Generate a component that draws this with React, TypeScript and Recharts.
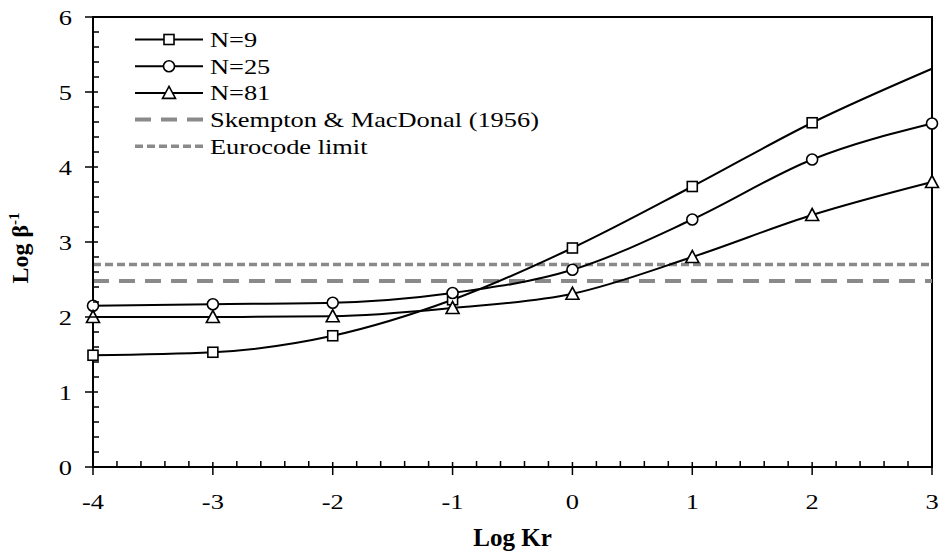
import React from "react";
import { LineChart, Line, XAxis, YAxis, ReferenceLine, ReferenceArea } from "recharts";

const logKr = [-4, -3, -2, -1, 0, 1, 2, 3];
const n9 = [1.49, 1.53, 1.75, 2.23, 2.92, 3.74, 4.59, 5.31];
const n25 = [2.15, 2.17, 2.19, 2.32, 2.63, 3.3, 4.1, 4.58];
const n81 = [2.0, 2.0, 2.01, 2.12, 2.31, 2.8, 3.36, 3.8];

const skemptonLimit = 2.48;
const eurocodeLimit = 2.7;

const xMajorTicks = [-4, -3, -2, -1, 0, 1, 2, 3];
const yMajorTicks = [0, 1, 2, 3, 4, 5, 6];

const FONT = '"Liberation Serif", "Times New Roman", serif';
const DASH_GREY = "#8a8a8a";

// major ticks plus 4 minor ticks in between each pair
function withMinor(majors: number[], parts: number) {
    const out: number[] = [];
    for (let i = 0; i < majors.length; i++) {
        out.push(majors[i]);
        if (i < majors.length - 1) {
            const step = (majors[i + 1] - majors[i]) / parts;
            for (let k = 1; k < parts; k++) out.push(Math.round((majors[i] + k * step) * 100) / 100);
        }
    }
    return out;
}

const xTicks = withMinor(xMajorTicks, 5);
const yTicks = withMinor(yMajorTicks, 5);

const data = logKr.map((x, i) => ({ x, n9: n9[i], n25: n25[i], n81: n81[i] }));

const isMajor = (v: number) => Math.abs(v - Math.round(v)) < 1e-6;

function Marker({ shape, cx, cy }: { shape: string; cx: number; cy: number }) {
    const common = { fill: "#fff", stroke: "#000", strokeWidth: 1.6 };
    if (shape === "square") return <rect x={cx - 5} y={cy - 5} width={10} height={10} {...common} />;
    if (shape === "circle") return <circle cx={cx} cy={cy} r={5.5} {...common} />;
    return <path d={`M${cx},${cy - 6.5} L${cx + 6.5},${cy + 5.5} L${cx - 6.5},${cy + 5.5} Z`} {...common} />;
}

const makeDot = (shape: string, skipLast = false) => (props: any) => {
    const { cx, cy, index } = props;
    if (cx == null || cy == null) return <g key={index} />;
    if (skipLast && index === logKr.length - 1) return <g key={index} />;
    return (
        <g key={index}>
            <Marker shape={shape} cx={cx} cy={cy} />
        </g>
    );
};

const XTick = (props: any) => {
    const { x, y, payload } = props;
    const v = payload.value;
    if (!isMajor(v)) return <line x1={x} x2={x} y1={y} y2={y - 6} stroke="#000" strokeWidth={1.5} />;
    return (
        <g>
            <line x1={x} x2={x} y1={y - 5} y2={y + 8} stroke="#000" strokeWidth={1.5} />
            <text transform={`translate(${x},${y + 42}) scale(1.2,1)`} textAnchor="middle" fontFamily={FONT} fontSize={22} fill="#000">
                {Math.round(v)}
            </text>
        </g>
    );
};

const YTick = (props: any) => {
    const { x, y, payload } = props;
    const v = payload.value;
    if (!isMajor(v)) return <line x1={x} x2={x + 6} y1={y} y2={y} stroke="#000" strokeWidth={1.5} />;
    return (
        <g>
            <line x1={x - 8} x2={x + 5} y1={y} y2={y} stroke="#000" strokeWidth={1.5} />
            <text transform={`translate(${x - 21},${y + 7.5}) scale(1.2,1)`} textAnchor="end" fontFamily={FONT} fontSize={22} fill="#000">
                {Math.round(v)}
            </text>
        </g>
    );
};

const seriesLegend = [
    { name: "N=9", shape: "square" },
    { name: "N=25", shape: "circle" },
    { name: "N=81", shape: "triangle" },
];
const limitLegend = [
    { name: "Skempton & MacDonal (1956)", dash: "16 10", width: 4 },
    { name: "Eurocode limit", dash: "8 4", width: 3.5 },
];

function LegendBox() {
    const rowY = (i: number) => 39.5 + i * 26.7;
    return (
        <svg width={942} height={557} style={{ position: "absolute", left: 0, top: 0, pointerEvents: "none" }}>
            {seriesLegend.map((s, i) => (
                <g key={s.name}>
                    <line x1={135} x2={203} y1={rowY(i)} y2={rowY(i)} stroke="#000" strokeWidth={2} />
                    <Marker shape={s.shape} cx={169} cy={rowY(i)} />
                    <text transform={`translate(210,${rowY(i) + 7.5}) scale(1.2,1)`} fontFamily={FONT} fontSize={22} fill="#000">
                        {s.name}
                    </text>
                </g>
            ))}
            {limitLegend.map((s, j) => {
                const y = rowY(j + seriesLegend.length);
                return (
                    <g key={s.name}>
                        <line x1={135} x2={203} y1={y} y2={y} stroke={DASH_GREY} strokeWidth={s.width} strokeDasharray={s.dash} />
                        <text transform={`translate(210,${y + 7.5}) scale(1.2,1)`} fontFamily={FONT} fontSize={22} fill="#000">
                            {s.name}
                        </text>
                    </g>
                );
            })}
        </svg>
    );
}

export default function App() {
    return (
        <div style={{ position: "absolute", left: 0, top: 0, width: 942, height: 557, background: "#fff" }}>
            <LineChart width={942} height={557} data={data} margin={{ top: 17, right: 10, bottom: 0, left: 0 }}>
                <XAxis
                    dataKey="x"
                    type="number"
                    domain={[-4, 3]}
                    ticks={xTicks}
                    interval={0}
                    tickLine={false}
                    tickSize={0}
                    tickMargin={0}
                    tick={<XTick />}
                    axisLine={{ stroke: "#000", strokeWidth: 2 }}
                    height={90}
                    label={{
                        content: (p: any) => {
                            const vb = p.viewBox;
                            return (
                                <text x={vb.x + vb.width / 2} y={vb.y + 79} textAnchor="middle" fontFamily={FONT} fontSize={25} fontWeight="bold" fill="#000">
                                    Log Kr
                                </text>
                            );
                        },
                    }}
                />
                <YAxis
                    type="number"
                    domain={[0, 6]}
                    ticks={yTicks}
                    interval={0}
                    tickLine={false}
                    tickSize={0}
                    tickMargin={0}
                    tick={<YTick />}
                    axisLine={{ stroke: "#000", strokeWidth: 2 }}
                    width={93}
                    label={{
                        content: (p: any) => {
                            const vb = p.viewBox;
                            const cy = vb.y + vb.height / 2 + 6;
                            return (
                                <text transform={`translate(28,${cy}) rotate(-90)`} textAnchor="middle" fontFamily={FONT} fontSize={24} fontWeight="bold" fill="#000">
                                    Log β
                                    <tspan fontSize={15} dy={-9}>-1</tspan>
                                </text>
                            );
                        },
                    }}
                />
                <ReferenceArea x1={-4} x2={3} y1={0} y2={6} fill="none" stroke="#000" strokeWidth={2} />
                <ReferenceLine y={skemptonLimit} stroke={DASH_GREY} strokeWidth={4} strokeDasharray="16 10" />
                <ReferenceLine y={eurocodeLimit} stroke={DASH_GREY} strokeWidth={3.5} strokeDasharray="8 4" />
                <Line type="monotone" dataKey="n9" stroke="#000" strokeWidth={2} dot={makeDot("square", true)} isAnimationActive={false} />
                <Line type="monotone" dataKey="n25" stroke="#000" strokeWidth={2} dot={makeDot("circle")} isAnimationActive={false} />
                <Line type="monotone" dataKey="n81" stroke="#000" strokeWidth={2} dot={makeDot("triangle")} isAnimationActive={false} />
            </LineChart>
            <LegendBox />
        </div>
    );
}
